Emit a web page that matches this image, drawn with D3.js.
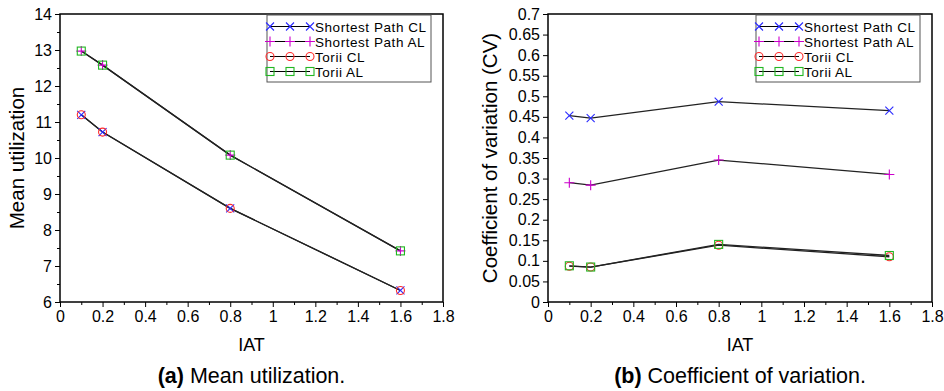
<!DOCTYPE html>
<html>
<head>
<meta charset="utf-8">
<script src="https://cdn.jsdelivr.net/npm/d3@7"></script>
<style>
  body { margin: 0; background: #fff; }
  svg { font-family: "Liberation Sans", Arial, sans-serif; }
</style>
</head>
<body>
<svg id="chart" width="944" height="391"></svg>
<script>
// x values (IAT)
const iat = [0.1, 0.2, 0.8, 1.6];

// (a) mean utilization
const utilSpCL = [11.2, 10.72, 8.6, 6.32];
const utilSpAL = [12.97, 12.58, 10.08, 7.42];
const utilToriiCL = [11.2, 10.72, 8.6, 6.32];
const utilToriiAL = [12.97, 12.58, 10.08, 7.42];

// (b) coefficient of variation
const cvSpCL = [0.453, 0.447, 0.487, 0.465];
const cvSpAL = [0.29, 0.284, 0.345, 0.31];
const cvToriiCL = [0.087, 0.085, 0.138, 0.11];
const cvToriiAL = [0.088, 0.085, 0.14, 0.113];

const seriesNames = ["Shortest Path CL", "Shortest Path AL", "Torii CL", "Torii AL"];
const markerTypes = ["x", "plus", "circle", "square"];
const markerColors = ["#2a2aff", "#cc00cc", "#ff2a2a", "#22b622"];

const xTicks = [0, 0.2, 0.4, 0.6, 0.8, 1, 1.2, 1.4, 1.6, 1.8];
const utilTicks = [6, 7, 8, 9, 10, 11, 12, 13, 14];
const cvTicks = [0, 0.05, 0.1, 0.15, 0.2, 0.25, 0.3, 0.35, 0.4, 0.45, 0.5, 0.55, 0.6, 0.65, 0.7];

const svg = d3.select("#chart");
const FONT = "Liberation Sans, Arial, sans-serif";

function drawMarker(g, type, color, cx, cy) {
  const s = 4;
  if (type === "x") {
    g.append("path").attr("d", `M${cx-s},${cy-s}L${cx+s},${cy+s}M${cx-s},${cy+s}L${cx+s},${cy-s}`)
      .attr("stroke", color).attr("stroke-width", 1.1).attr("fill", "none");
  } else if (type === "plus") {
    g.append("path").attr("d", `M${cx-s-1},${cy}L${cx+s+1},${cy}M${cx},${cy-s-1}L${cx},${cy+s+1}`)
      .attr("stroke", color).attr("stroke-width", 1.1).attr("fill", "none");
  } else if (type === "circle") {
    g.append("circle").attr("cx", cx).attr("cy", cy).attr("r", s)
      .attr("stroke", color).attr("stroke-width", 1.1).attr("fill", "none");
  } else {
    g.append("rect").attr("x", cx - s).attr("y", cy - s).attr("width", 2 * s).attr("height", 2 * s)
      .attr("stroke", color).attr("stroke-width", 1.1).attr("fill", "none");
  }
}

function drawPanel(opt) {
  const left = opt.left, right = opt.right, top = 14, bottom = 302;
  const x = d3.scaleLinear().domain([0, 1.8]).range([left, right]);
  const y = d3.scaleLinear().domain(opt.yDomain).range([bottom, top]);
  const g = svg.append("g");

  // frame
  g.append("rect").attr("x", left).attr("y", top).attr("width", right - left).attr("height", bottom - top)
    .attr("fill", "none").attr("stroke", "#000").attr("stroke-width", 1.5);

  // x axis
  const minorX = d3.range(0.1, 1.8, 0.2);
  g.append("g").attr("transform", `translate(0,${bottom})`)
    .call(d3.axisBottom(x).tickValues(minorX).tickSize(3).tickFormat(""))
    .call(a => a.select(".domain").remove());
  const xa = g.append("g").attr("transform", `translate(0,${bottom})`)
    .call(d3.axisBottom(x).tickValues(xTicks).tickSize(5).tickPadding(4).tickFormat(d3.format("")));
  xa.select(".domain").remove();
  xa.selectAll("text").attr("font-size", 16).attr("fill", "#000").attr("font-family", FONT);

  // y axis
  const minorY = opt.yTicks.slice(0, -1).map((t, i) => (t + opt.yTicks[i + 1]) / 2);
  if (opt.minorY) {
    g.append("g").attr("transform", `translate(${left},0)`)
      .call(d3.axisLeft(y).tickValues(minorY).tickSize(3).tickFormat(""))
      .call(a => a.select(".domain").remove());
  }
  const ya = g.append("g").attr("transform", `translate(${left},0)`)
    .call(d3.axisLeft(y).tickValues(opt.yTicks).tickSize(5).tickPadding(3).tickFormat(d => String(d)));
  ya.select(".domain").remove();
  ya.selectAll("text").attr("font-size", 16).attr("fill", "#000").attr("font-family", FONT);

  // lines
  const line = d3.line().x((d, i) => x(iat[i])).y(d => y(d));
  opt.series.forEach(s => {
    g.append("path").datum(s).attr("d", line).attr("fill", "none").attr("stroke", "#222").attr("stroke-width", 1.3);
  });
  opt.series.forEach((s, k) => {
    s.forEach((v, i) => drawMarker(g, markerTypes[k], markerColors[k], x(iat[i]), y(v)));
  });

  // legend
  const lg = g.append("g");
  lg.append("rect").attr("x", opt.legX).attr("y", 15).attr("width", 164).attr("height", 67)
    .attr("fill", "#fff").attr("stroke", "#555").attr("stroke-width", 1);
  seriesNames.forEach((name, k) => {
    const ry = 26.5 + k * 15;
    const lx0 = opt.legX + 3, lx1 = opt.legX + 43;
    lg.append("line").attr("x1", lx0).attr("x2", lx1).attr("y1", ry).attr("y2", ry).attr("stroke", "#000").attr("stroke-width", 1);
    [lx0, (lx0 + lx1) / 2, lx1].forEach(mx => drawMarker(lg, markerTypes[k], markerColors[k], mx, ry));
    lg.append("text").attr("x", lx1 + 5).attr("y", ry + 5).attr("font-size", 13.5)
      .attr("letter-spacing", 0.55).attr("fill", "#000").text(name);
  });

  // axis labels
  g.append("text").attr("x", (left + right) / 2).attr("y", 351).attr("text-anchor", "middle")
    .attr("font-size", 18).text("IAT");
  g.append("text").attr("transform", `translate(${opt.yLabelX},${(top + bottom) / 2}) rotate(-90)`)
    .attr("text-anchor", "middle").attr("font-size", 20.5).text(opt.yLabel);

  // caption
  const cap = g.append("text").attr("x", (left + right) / 2).attr("y", 383).attr("text-anchor", "middle")
    .attr("font-size", 21.5);
  cap.append("tspan").attr("font-weight", "bold").text(opt.capTag);
  cap.append("tspan").text(" " + opt.caption);
}

drawPanel({
  left: 60, right: 443, yDomain: [6, 14], yTicks: utilTicks, minorY: true,
  series: [utilSpCL, utilSpAL, utilToriiCL, utilToriiAL],
  legX: 267, yLabel: "Mean utilization", yLabelX: 24,
  capTag: "(a)", caption: "Mean utilization."
});

drawPanel({
  left: 548, right: 932, yDomain: [0, 0.7], yTicks: cvTicks, minorY: false,
  series: [cvSpCL, cvSpAL, cvToriiCL, cvToriiAL],
  legX: 756, yLabel: "Coefficient of variation (CV)", yLabelX: 497,
  capTag: "(b)", caption: "Coefficient of variation."
});
</script>
</body>
</html>
